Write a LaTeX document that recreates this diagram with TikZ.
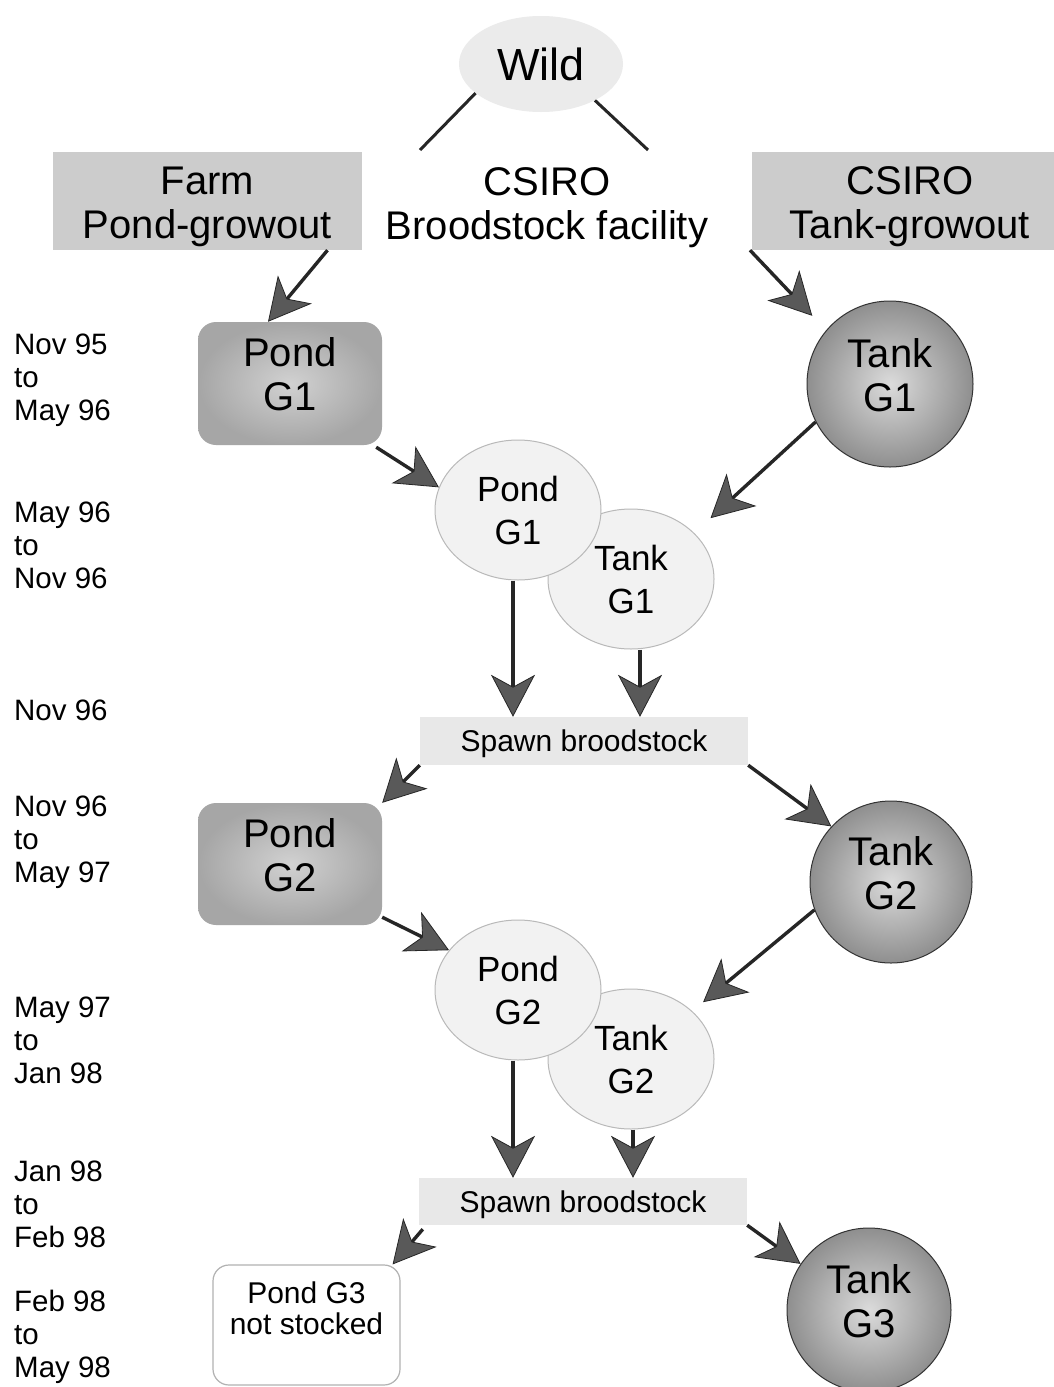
\documentclass[tikz,border=0pt]{standalone}
\usepackage{fontspec}
\setmainfont{Liberation Sans}
\usetikzlibrary{shapes.geometric,arrows.meta}
\definecolor{topg}{gray}{0.80}
\definecolor{wildg}{gray}{0.92}
\definecolor{ellg}{gray}{0.95}
\definecolor{spawng}{gray}{0.91}
\definecolor{pondin}{gray}{0.82}
\definecolor{pondout}{gray}{0.65}
\definecolor{tankin}{gray}{0.86}
\definecolor{tankout}{gray}{0.56}
\begin{document}
\begin{tikzpicture}[x=1pt,y=-1pt,
  bigtxt/.style={font=\fontsize{40}{44}\selectfont, align=center},
  midtxt/.style={font=\fontsize{35}{43}\selectfont, align=center},
  sidetxt/.style={font=\fontsize{29.5}{33}\selectfont, align=left, anchor=west, inner sep=0pt},
  topbox/.style={rectangle, fill=topg, inner sep=0pt, minimum height=98pt},
  pondbox/.style={rectangle, rounded corners=18pt, inner color=pondin, outer color=pondout, minimum width=184pt, minimum height=123pt, inner sep=0pt},
  tankball/.style={circle, draw=black!80, line width=1pt, inner color=tankin, outer color=tankout, minimum size=166pt, inner sep=0pt},
  lightell/.style={ellipse, draw=gray!55, line width=1pt, fill=ellg, minimum width=166pt, minimum height=140pt, inner sep=0pt, midtxt},
  spawnbox/.style={rectangle, fill=spawng, minimum width=328pt, minimum height=48pt, inner sep=0pt, font=\fontsize{30}{36}\selectfont},
  arr/.style={draw=black!85, line width=3.4pt, -{Stealth[length=42pt,width=44pt,inset=12pt,line width=0.8pt,fill=black!65]}},
  wline/.style={draw=black!85, line width=3pt}
]
\fill[white] (0,0) rectangle (1053,1387);
\useasboundingbox (0,0) rectangle (1053,1387);

% top
\node[ellipse, fill=wildg, minimum width=164pt, minimum height=96pt, inner sep=0pt, font=\fontsize{45}{50}\selectfont] (wild) at (541,64) {Wild};
\node[topbox, minimum width=309pt, label={[bigtxt, yshift=-6pt]center:Farm\\Pond-growout}] (farm) at (207.5,201) {};
\node[bigtxt] (csiro) at (547,208) {CSIRO\\Broodstock facility};
\node[topbox, minimum width=316pt, label={[bigtxt, yshift=-6pt]center:CSIRO\\Tank-growout}] (tgrow) at (910,201) {};
\coordinate (wl) at (420,150);
\coordinate (wr) at (648,150);

% G1
\node[pondbox, label={[bigtxt, yshift=9pt]center:Pond\\G1}] (pond1) at (290,383.5) {};
\node[tankball, label={[bigtxt, yshift=9pt]center:Tank\\G1}] (tank1) at (890,384) {};
\node[lightell] (te1) at (631,579) {Tank\\G1};
\node[lightell] (pe1) at (518,510) {Pond\\G1};
\node[spawnbox, label={[font=\fontsize{30}{36}\selectfont, yshift=-3pt]center:Spawn broodstock}] (spawn1) at (584,741) {};

% G2
\node[pondbox, minimum height=122pt, label={[bigtxt, yshift=9pt]center:Pond\\G2}] (pond2) at (290,864) {};
\node[tankball, minimum size=162pt, label={[bigtxt, yshift=9pt]center:Tank\\G2}] (tank2) at (891,882) {};
\node[lightell] (te2) at (631,1059) {Tank\\G2};
\node[lightell] (pe2) at (518,990) {Pond\\G2};
\node[spawnbox, minimum height=47pt, label={[font=\fontsize{30}{36}\selectfont, yshift=-3pt]center:Spawn broodstock}] (spawn2) at (583,1201.5) {};

% G3
\node[rectangle, rounded corners=16pt, draw=gray!60, line width=1.2pt, fill=white, minimum width=187pt, minimum height=120pt, inner sep=0pt,
  label={[font=\fontsize{30}{31}\selectfont, align=center, yshift=17pt]center:Pond G3\\not stocked}] (pond3) at (306.5,1325) {};
\node[tankball, minimum size=164pt, label={[bigtxt, yshift=9pt]center:Tank\\G3}] (tank3) at (869,1310) {};

% side dates
\node[sidetxt] (d1) at (14,380) {Nov 95\\to\\May 96};
\node[sidetxt] (d2) at (14,545) {May 96\\to\\Nov 96};
\node[sidetxt] (d3) at (14,710) {Nov 96};
\node[sidetxt] (d4) at (14,842) {Nov 96\\to\\May 97};
\node[sidetxt] (d5) at (14,1040) {May 97\\to\\Jan 98};
\node[sidetxt] (d6) at (14,1204) {Jan 98\\to\\Feb 98};
\node[sidetxt] (d7) at (14,1337) {Feb 98\\to\\May 98};

% connectors
\draw[wline] (wild.204) -- (wl);
\draw[wline] (wild.326) -- (wr);
\draw[arr] ([xshift=120pt]farm.south) -- ([xshift=-22pt]pond1.north);
\draw[arr, shorten >=20pt] ([xshift=-160pt]tgrow.south) -- (tank1.140);
\draw[arr] ([shift={(-6pt,-2pt)}]pond1.south east) -- (pe1.164);
\draw[arr, shorten >=22pt] (tank1.207) -- (te1.36);
\draw[arr] ([xshift=-5pt]pe1.south) -- ([xshift=-5pt]pe1.south |- spawn1.north);
\draw[arr] ([xshift=9pt]te1.south) -- ([xshift=9pt]te1.south |- spawn1.north);
\draw[arr] (spawn1.south west) -- (pond2.north east);
\draw[arr] (spawn1.south east) -- (tank2.137);
\draw[arr] ([yshift=8pt]pond2.south east) -- (pe2.150);
\draw[arr, shorten >=14pt] (tank2.200) -- (te2.38);
\draw[arr] ([xshift=-5pt]pe2.south) -- ([xshift=-5pt]pe2.south |- spawn2.north);
\draw[arr] ([xshift=2pt]te2.south) -- ([xshift=2pt]te2.south |- spawn2.north);
\draw[arr] ([shift={(4pt,-4pt)}]spawn2.south west) -- ([xshift=-8pt]pond3.north east);
\draw[arr] (spawn2.south east) -- (tank3.146);
\end{tikzpicture}
\end{document}
